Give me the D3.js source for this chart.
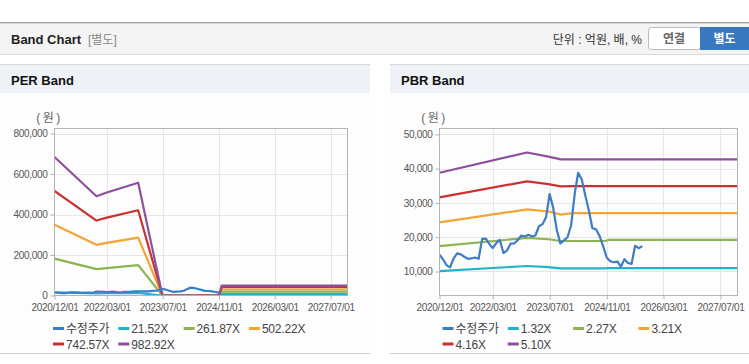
<!DOCTYPE html>
<html>
<head>
<meta charset="utf-8">
<script src="https://cdn.jsdelivr.net/npm/d3@7"></script>
<style>
  body { margin: 0; background: #fff; }
  svg text { font-family: "Liberation Sans", "Noto Sans CJK KR", sans-serif; }
</style>
</head>
<body>
<svg id="chart" width="749" height="364"></svg>
<script>
// x axis
const xTicks = ["2020-12-01", "2022-03-01", "2023-07-01", "2024-11-01", "2026-03-01", "2027-07-01"];
const xEnd = ["2020-12-01", "2027-11-24"];

// 수정주가, monthly from 2020/12 to 2025/09
const priceStart = "2020-12-01";
const priceValues = [14900, 13500, 11800, 11200, 13800, 15300, 15000, 14300, 13700, 13800,
  14100, 13700, 19500, 19600, 18000, 16800, 18300, 19200, 15400, 16100,
  18100, 18200, 19100, 20500, 20200, 20700, 20200, 20500, 23200, 23800,
  25900, 32600, 28500, 22000, 18200, 19100, 20000, 23500, 32800, 38800,
  36800, 32200, 27700, 22600, 22300, 20300, 17300, 14000, 13000, 12700,
  12900, 11400, 13600, 12500, 12200, 17500, 16800, 17400];
const perPriceEnd = "2024-11-01";

// PER band
const perDates = ["2020-12-01", "2021-12-01", "2022-03-01", "2022-11-29", "2023-06-28", "2024-11-01", "2024-11-25", "2027-11-24"];
const per1 = [15000, 10700, 11100, 12200, 0, 0, 7000, 7000];
const per2 = [182000, 130500, 135600, 150000, 0, 0, 19000, 19000];
const per3 = [349500, 250400, 260100, 286000, 0, 0, 31000, 31000];
const per4 = [516800, 370200, 384600, 421000, 0, 0, 42000, 42000];
const per5 = [684000, 490000, 509000, 557000, 0, 0, 49000, 49000];
const perNames = ["21.52X", "261.87X", "502.22X", "742.57X", "982.92X"];
const perYTicks = [0, 200000, 400000, 600000, 800000];
const perYDomain = [0, 825000];

// PBR band
const pbrDates = ["2020-12-01", "2022-12-20", "2023-06-20", "2023-10-05", "2024-01-10", "2024-10-15", "2024-11-15", "2027-11-24"];
const pbr1 = [10100, 11600, 11300, 10900, 10900, 10900, 11000, 11000];
const pbr2 = [17400, 19800, 19400, 18900, 18900, 18900, 19200, 19200];
const pbr3 = [24300, 28100, 27500, 26600, 27000, 27000, 27000, 27000];
const pbr4 = [31600, 36300, 35500, 34800, 34900, 34900, 34900, 34900];
const pbr5 = [38800, 44700, 43500, 42700, 42700, 42700, 42700, 42700];
const pbrNames = ["1.32X", "2.27X", "3.21X", "4.16X", "5.10X"];
const pbrYTicks = [10000, 20000, 30000, 40000, 50000];
const pbrYDomain = [3000, 51700];

const colors = ["#3d7cc9", "#22b3c8", "#8db352", "#f3a534", "#c93232", "#8e4f9d"];

const parse = d3.timeParse("%Y-%m-%d");
const fmtTick = d3.timeFormat("%Y/%m/%d");
const svg = d3.select("#chart");

// top bar
svg.append("rect").attr("x", 0).attr("y", 22).attr("width", 749).attr("height", 33).attr("fill", "#f4f4f4");
svg.append("line").attr("x1", 0).attr("x2", 749).attr("y1", 22.5).attr("y2", 22.5).attr("stroke", "#a5a5a5");
svg.append("line").attr("x1", 0).attr("x2", 749).attr("y1", 23.5).attr("y2", 23.5).attr("stroke", "#d5d5d5");
svg.append("line").attr("x1", 0).attr("x2", 749).attr("y1", 54.5).attr("y2", 54.5).attr("stroke", "#d8d8d8");
svg.append("text").attr("x", 11).attr("y", 43.5).attr("font-size", 13).attr("font-weight", "bold")
  .attr("fill", "#222").text("Band Chart");
svg.append("text").attr("x", 88).attr("y", 43.5).attr("font-size", 12).attr("fill", "#888").text("[별도]");
svg.append("text").attr("x", 642).attr("y", 43.5).attr("font-size", 12).attr("fill", "#333")
  .attr("text-anchor", "end").text("단위 : 억원, 배, %");
svg.append("rect").attr("x", 648.5).attr("y", 27.5).attr("width", 52).attr("height", 22).attr("rx", 3)
  .attr("fill", "#fff").attr("stroke", "#bbb");
svg.append("text").attr("x", 674).attr("y", 43).attr("font-size", 12).attr("font-weight", "bold")
  .attr("fill", "#666").attr("text-anchor", "middle").text("연결");
svg.append("rect").attr("x", 700).attr("y", 27).attr("width", 49).attr("height", 23).attr("fill", "#3a78bd");
svg.append("text").attr("x", 724.5).attr("y", 43).attr("font-size", 12).attr("font-weight", "bold")
  .attr("fill", "#fff").attr("text-anchor", "middle").text("별도");

const price = priceValues.map((v, i) => ({ date: d3.timeMonth.offset(parse(priceStart), i), value: v }));

function drawBand(opt) {
  const p = svg.append("g");
  // panel
  p.append("rect").attr("x", opt.px).attr("y", 64).attr("width", opt.pw).attr("height", 290).attr("fill", "#fdfdfd");
  p.append("rect").attr("x", opt.px).attr("y", 64).attr("width", opt.pw).attr("height", 29).attr("fill", "#eef2f7");
  p.append("line").attr("x1", opt.px).attr("x2", opt.px + opt.pw).attr("y1", 64.5).attr("y2", 64.5).attr("stroke", "#d8d8d8");
  p.append("line").attr("x1", opt.px).attr("x2", opt.px + opt.pw).attr("y1", 353.5).attr("y2", 353.5).attr("stroke", "#cfcfcf");
  p.append("text").attr("x", opt.px + 11).attr("y", 84.5).attr("font-size", 13).attr("font-weight", "bold")
    .attr("fill", "#111").text(opt.title);

  const left = opt.left, right = opt.right, top = 128.5, bottom = 295.5;
  const x = d3.scaleTime().domain(xEnd.map(parse)).range([left, right]);
  const y = d3.scaleLinear().domain(opt.yDomain).range([bottom, top]);

  // grid
  const g = p.append("g");
  g.selectAll(".gx").data(xTicks.slice(1)).join("line")
    .attr("x1", d => Math.round(x(parse(d))) + 0.5).attr("x2", d => Math.round(x(parse(d))) + 0.5)
    .attr("y1", top).attr("y2", bottom).attr("stroke", "#e6e6e6");
  g.selectAll(".gy").data(opt.yTicks.filter(d => d > opt.yDomain[0])).join("line")
    .attr("x1", left).attr("x2", right)
    .attr("y1", d => Math.round(y(d)) + 0.5).attr("y2", d => Math.round(y(d)) + 0.5).attr("stroke", "#e6e6e6");

  // series
  const clipId = "clip" + opt.title.replace(/\s/g, "");
  p.append("clipPath").attr("id", clipId).append("rect")
    .attr("x", left).attr("y", top).attr("width", right - left).attr("height", bottom - top);
  const lines = p.append("g").attr("clip-path", `url(#${clipId})`);
  const line = d3.line().x(d => x(d.date)).y(d => y(d.value));
  opt.bands.forEach((vals, i) => {
    const data = vals.map((v, j) => ({ date: parse(opt.dates[j]), value: v }));
    lines.append("path").datum(data).attr("d", line).attr("fill", "none")
      .attr("stroke", colors[i + 1]).attr("stroke-width", 2.2).attr("stroke-linejoin", "round");
  });
  lines.append("path").datum(opt.price).attr("d", line).attr("fill", "none")
    .attr("stroke", colors[0]).attr("stroke-width", 2.2).attr("stroke-linejoin", "round");

  // frame
  p.append("rect").attr("x", left).attr("y", top).attr("width", right - left).attr("height", bottom - top)
    .attr("fill", "none").attr("stroke", "#b4b4b4");

  // axes
  const ax = p.append("g").attr("transform", `translate(0,${bottom})`)
    .call(d3.axisBottom(x).tickValues(xTicks.map(parse)).tickFormat(fmtTick).tickSize(4).tickPadding(4));
  const ay = p.append("g").attr("transform", `translate(${left},0)`)
    .call(d3.axisLeft(y).tickValues(opt.yTicks).tickFormat(d3.format(",")).tickSize(4).tickPadding(3));
  [ax, ay].forEach(a => {
    a.select(".domain").remove();
    a.selectAll(".tick line").attr("stroke", "#b4b4b4");
    a.selectAll(".tick text").attr("fill", "#555").attr("font-size", 10).attr("letter-spacing", "-0.3px")
      .attr("font-family", null);
  });
  p.append("text").attr("x", left - 5).attr("y", 122).attr("font-size", 12).attr("fill", "#666")
    .attr("letter-spacing", "2.5px").attr("text-anchor", "middle").text("(원)");

  // legend
  const names = ["수정주가"].concat(opt.names);
  names.forEach((name, i) => {
    const lx = opt.legendX + (i % 4) * 65.3;
    const ly = 328.5 + Math.floor(i / 4) * 15.5;
    p.append("line").attr("x1", lx).attr("x2", lx + 11).attr("y1", ly).attr("y2", ly)
      .attr("stroke", colors[i]).attr("stroke-width", 3);
    p.append("text").attr("x", lx + 13).attr("y", ly + 4.5).attr("font-size", 12).attr("fill", "#444")
      .attr("letter-spacing", "-0.2px").text(name);
  });
}

drawBand({
  title: "PER Band", px: 0, pw: 370, left: 54.5, right: 347.5,
  yDomain: perYDomain, yTicks: perYTicks, dates: perDates,
  bands: [per1, per2, per3, per4, per5], names: perNames,
  price: price.filter(d => d.date <= parse(perPriceEnd)), legendX: 53
});
drawBand({
  title: "PBR Band", px: 390, pw: 359, left: 439.5, right: 737.5,
  yDomain: pbrYDomain, yTicks: pbrYTicks, dates: pbrDates,
  bands: [pbr1, pbr2, pbr3, pbr4, pbr5], names: pbrNames,
  price: price, legendX: 442.5
});
</script>
</body>
</html>
